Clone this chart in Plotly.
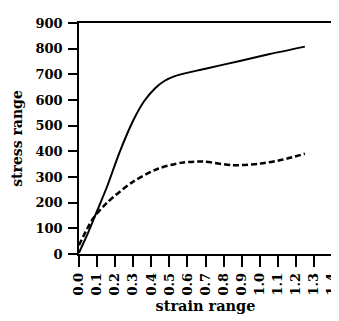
import plotly.graph_objects as go

solid_x = [0.0, 0.05, 0.1, 0.155, 0.225, 0.3, 0.36, 0.42, 0.47, 0.53, 0.7, 0.89, 1.05, 1.25]
solid_y = [5, 82, 168, 262, 397, 520, 595, 645, 673, 693, 722, 752, 778, 808]

dash_x = [0.0, 0.05, 0.083, 0.155, 0.3, 0.44, 0.57, 0.686, 0.85, 1.0, 1.13, 1.25]
dash_y = [34, 105, 143, 200, 282, 333, 356, 360, 346, 352, 368, 391]

x_ticks = [round(i * 0.1, 1) for i in range(15)]
x_tick_text = [f"{v:.1f}" for v in x_ticks]
y_ticks = list(range(0, 901, 100))

FONT = "DejaVu Serif"

fig = go.Figure()
fig.add_trace(go.Scatter(x=solid_x, y=solid_y, mode="lines",
                         line=dict(color="black", width=2, shape="spline", smoothing=0.9)))
fig.add_trace(go.Scatter(x=dash_x, y=dash_y, mode="lines",
                         line=dict(color="black", width=2.5, dash="6px,3px", shape="spline", smoothing=0.8)))

fig.update_layout(
    width=339, height=321,
    margin=dict(l=71, r=8, t=10, b=75),
    paper_bgcolor="white", plot_bgcolor="white",
    showlegend=False,
    font=dict(family=FONT, size=13, color="black"),
)
fig.update_xaxes(
    range=[0, 1.4], tickvals=x_ticks, ticktext=x_tick_text, tickangle=-90,
    ticks="outside", ticklen=11, tickwidth=1.5, tickcolor="black",
    showline=True, linecolor="black", linewidth=1.5, mirror=True,
    showgrid=False, zeroline=False, ticklabelstandoff=1,
    tickfont=dict(family=FONT, size=13, weight="bold"),
    title=dict(text="<b>strain range</b>", font=dict(family=FONT, size=14.5), standoff=6),
)
fig.update_yaxes(
    range=[0, 900], tickvals=y_ticks,
    ticks="outside", ticklen=9, tickwidth=1.5, tickcolor="black",
    showline=True, linecolor="black", linewidth=1.5, mirror=True,
    showgrid=False, zeroline=False, ticklabelstandoff=3,
    tickfont=dict(family=FONT, size=13, weight="bold"),
    title=dict(text="<b>stress range</b>", font=dict(family=FONT, size=14), standoff=10),
)

fig.write_html("out.html")
